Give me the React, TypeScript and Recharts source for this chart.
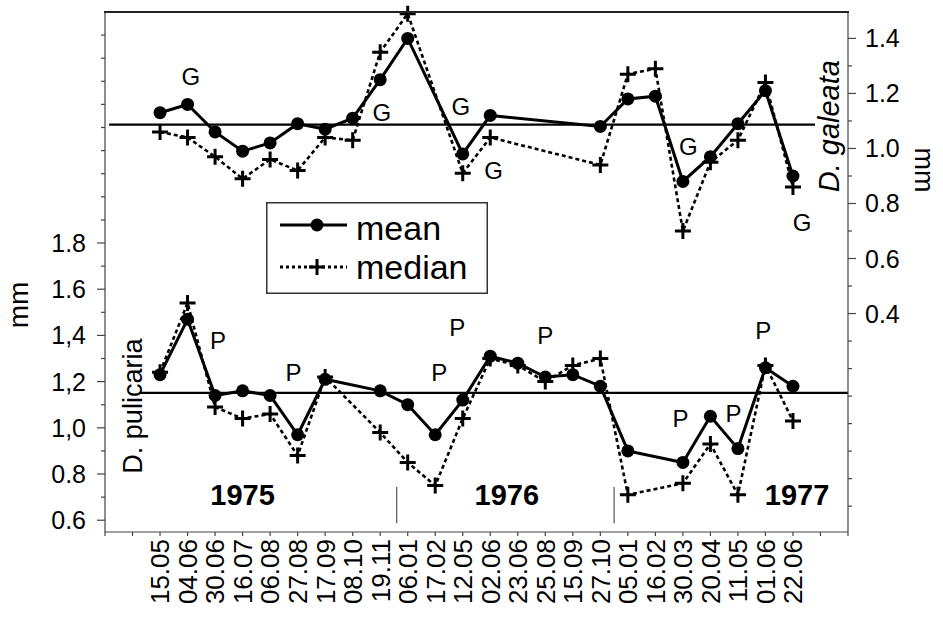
import { ComposedChart, Line, XAxis, YAxis, ReferenceLine, ReferenceDot } from "recharts";

const FONT = "'Liberation Sans', Arial, sans-serif";

// sampling dates (x positions 2..25 on the date axis)
const DATES = [
  "15.05", "04.06", "30.06", "16.07", "06.08", "27.08", "17.09", "08.10", "19.11",
  "06.01", "17.02", "12.05", "02.06", "23.06", "25.08", "15.09", "27.10",
  "05.01", "16.02", "30.03", "20.04", "11.05", "01.06", "22.06",
];

// D. pulicaria (left axis)
const PUL_MEAN = [1.23, 1.47, 1.14, 1.16, 1.14, 0.97, 1.21, null, 1.16, 1.10, 0.97, 1.12, 1.31, 1.28, 1.22, 1.23, 1.18, 0.90, null, 0.85, 1.05, 0.91, 1.26, 1.18];
const PUL_MEDIAN = [1.24, 1.54, 1.09, 1.04, 1.06, 0.88, 1.22, null, 0.98, 0.85, 0.75, 1.04, 1.30, 1.27, 1.20, 1.27, 1.30, 0.71, null, 0.76, 0.93, 0.71, 1.27, 1.03];

// D. galeata (right axis)
const GAL_MEAN = [1.13, 1.16, 1.06, 0.99, 1.02, 1.09, 1.07, 1.11, 1.25, 1.40, null, 0.98, 1.12, null, null, null, 1.08, 1.18, 1.19, 0.88, 0.97, 1.09, 1.21, 0.90];
const GAL_MEDIAN = [1.06, 1.04, 0.97, 0.89, 0.96, 0.92, 1.04, 1.03, 1.35, 1.49, null, 0.91, 1.04, null, null, null, 0.94, 1.27, 1.29, 0.70, 0.95, 1.03, 1.24, 0.86];

// overall levels (horizontal lines)
const PUL_LEVEL = 1.151;
const GAL_LEVEL = 1.087;

// year boundaries on the date axis
const YEAR_BREAKS = [10.6, 18.5];
const YEARS = [
  { x: 5.0, label: "1975" },
  { x: 14.6, label: "1976" },
  { x: 25.15, label: "1977" },
];

// letter marks
const G_MARKS = [
  { x: 3.12, y: 1.263 }, { x: 10.06, y: 1.133 }, { x: 12.93, y: 1.154 },
  { x: 14.12, y: 0.921 }, { x: 21.2, y: 1.006 }, { x: 25.33, y: 0.733 },
];
const P_MARKS = [
  { x: 4.11, y: 1.379 }, { x: 6.85, y: 1.242 }, { x: 12.15, y: 1.241 }, { x: 12.8, y: 1.435 },
  { x: 16.0, y: 1.40 }, { x: 20.91, y: 1.042 }, { x: 22.84, y: 1.063 }, { x: 23.92, y: 1.423 },
];

const LEFT_LABELS: Record<string, string> = {
  "0.6": "0.6", "0.8": "0.8", "1": "1,0", "1.2": "1,2", "1.4": "1,4", "1.6": "1.6", "1.8": "1.8",
};
const RIGHT_LABELS: Record<string, string> = {
  "0.4": "0.4", "0.6": "0.6", "0.8": "0.8", "1": "1.0", "1.2": "1.2", "1.4": "1.4",
};

const steps = (from: number, n: number) => Array.from({ length: n }, (_, k) => +(from + k * 0.1).toFixed(1));
const LEFT_TICKS = steps(0.6, 22);
const RIGHT_TICKS = steps(-0.3, 18);
const X_TICKS = Array.from({ length: 28 }, (_, k) => k);

const data = DATES.map((d, k) => ({
  i: k + 2,
  pulMean: PUL_MEAN[k],
  pulMedian: PUL_MEDIAN[k],
  galMean: GAL_MEAN[k],
  galMedian: GAL_MEDIAN[k],
}));

const AXIS = "#444";

function MeanDot(p: any) {
  if (p.cy == null || p.cx == null) return <g key={p.index} />;
  return <circle key={p.index} cx={p.cx} cy={p.cy} r={6.5} fill="#000" />;
}

function CrossDot(p: any) {
  if (p.cy == null || p.cx == null) return <g key={p.index} />;
  const { cx, cy } = p;
  return <path key={p.index} d={`M${cx - 8},${cy}h16M${cx},${cy - 8}v16`} stroke="#000" strokeWidth={3} fill="none" />;
}

function LeftTick({ x, y, payload }: any) {
  const lab = LEFT_LABELS[String(payload.value)];
  return (
    <g>
      <line x1={x} x2={x - (lab ? 8 : 4)} y1={y} y2={y} stroke={AXIS} strokeWidth={1.2} />
      {lab && (
        <text x={x - 19} y={y} dy="0.36em" textAnchor="end" fontSize={25} fontFamily={FONT} fill="#000">{lab}</text>
      )}
    </g>
  );
}

function RightTick({ x, y, payload }: any) {
  const lab = RIGHT_LABELS[String(payload.value)];
  return (
    <g>
      <line x1={x} x2={x + (lab ? 8 : 4)} y1={y} y2={y} stroke={AXIS} strokeWidth={1.2} />
      {lab && (
        <text x={x + 17} y={y} dy="0.36em" textAnchor="start" fontSize={25} fontFamily={FONT} fill="#000">{lab}</text>
      )}
    </g>
  );
}

function DateTick({ x, y, payload }: any) {
  const lab = DATES[payload.value - 2];
  return (
    <g>
      <line x1={x} x2={x} y1={y} y2={y + 4} stroke={AXIS} strokeWidth={1.2} />
      {lab && (
        <text x={x} y={y + 7} dy="0.36em" textAnchor="end" transform={`rotate(-90 ${x} ${y + 7})`}
          fontSize={26} fontFamily={FONT} fill="#000">{lab}</text>
      )}
    </g>
  );
}

const letter = (txt: string, size: number, bold = false) => (p: any) => (
  <text x={p.cx} y={p.cy} dy="0.36em" textAnchor="middle" fontSize={size} fontWeight={bold ? "bold" : "normal"}
    fontFamily={FONT} fill="#000">{txt}</text>
);

const vertical = (txt: string, size: number, italic = false) => (p: any) => (
  <text x={p.cx} y={p.cy} dy="0.36em" textAnchor="middle" transform={`rotate(-90 ${p.cx} ${p.cy})`}
    fontSize={size} fontStyle={italic ? "italic" : "normal"} fontFamily={FONT} fill="#000">{txt}</text>
);

function LegendBox() {
  return (
    <svg width={222} height={92} style={{ position: "absolute", left: 266, top: 202 }}>
      <rect x={0.75} y={0.75} width={220.5} height={90.5} fill="#fff" stroke="#333" strokeWidth={1.5} />
      <line x1={14} x2={81} y1={23} y2={23} stroke="#000" strokeWidth={3} />
      <circle cx={51} cy={23} r={6.5} fill="#000" />
      <text x={90} y={38} fontSize={34} fontFamily={FONT} fill="#000">mean</text>
      <line x1={14} x2={81} y1={65} y2={65} stroke="#000" strokeWidth={3} strokeDasharray="3 3" />
      <path d="M43,65h16M51,57v16" stroke="#000" strokeWidth={3} />
      <text x={90} y={77} fontSize={34} fontFamily={FONT} fill="#000">median</text>
    </svg>
  );
}

export default function App() {
  return (
    <div style={{ position: "absolute", left: 0, top: 0, width: 943, height: 617, background: "#fff" }}>
      <ComposedChart width={943} height={617} data={data} margin={{ top: 12, right: 0, bottom: 0, left: 0 }}>
        <XAxis xAxisId="bottom" dataKey="i" type="number" domain={[0, 27]} ticks={X_TICKS} interval={0}
          height={85} tickSize={0} tickMargin={0} tick={<DateTick />} stroke={AXIS} strokeWidth={1.2} />
        <YAxis yAxisId="left" type="number" domain={[0.549, 2.8]} ticks={LEFT_TICKS} interval={0}
          width={105} tickSize={0} tickMargin={0} tick={<LeftTick />} stroke={AXIS} strokeWidth={1.2} />
        <YAxis yAxisId="right" orientation="right" type="number" domain={[-0.394, 1.496]} ticks={RIGHT_TICKS} interval={0}
          width={95} tickSize={0} tickMargin={0} tick={<RightTick />} stroke={AXIS} strokeWidth={1.2} />

        <ReferenceLine xAxisId="bottom" yAxisId="right" segment={[{ x: 0.15, y: GAL_LEVEL }, { x: 25.8, y: GAL_LEVEL }]}
          stroke="#000" strokeWidth={2.2} />
        <ReferenceLine xAxisId="bottom" yAxisId="left" segment={[{ x: 1.27, y: PUL_LEVEL }, { x: 27, y: PUL_LEVEL }]}
          stroke="#000" strokeWidth={2.2} />
        {YEAR_BREAKS.map((b) => (
          <ReferenceLine key={b} xAxisId="bottom" yAxisId="left" segment={[{ x: b, y: 0.587 }, { x: b, y: 0.744 }]}
            stroke="#555" strokeWidth={1.2} />
        ))}

        <Line xAxisId="bottom" yAxisId="right" dataKey="galMean" stroke="#000" strokeWidth={3} connectNulls
          dot={MeanDot} activeDot={false} isAnimationActive={false} />
        <Line xAxisId="bottom" yAxisId="right" dataKey="galMedian" stroke="#000" strokeWidth={2.6} strokeDasharray="4 3"
          connectNulls dot={CrossDot} activeDot={false} isAnimationActive={false} />
        <Line xAxisId="bottom" yAxisId="left" dataKey="pulMean" stroke="#000" strokeWidth={3} connectNulls
          dot={MeanDot} activeDot={false} isAnimationActive={false} />
        <Line xAxisId="bottom" yAxisId="left" dataKey="pulMedian" stroke="#000" strokeWidth={2.6} strokeDasharray="4 3"
          connectNulls dot={CrossDot} activeDot={false} isAnimationActive={false} />

        {G_MARKS.map((m, k) => (
          <ReferenceDot key={`g${k}`} xAxisId="bottom" yAxisId="right" x={m.x} y={m.y} r={0} shape={letter("G", 24)} />
        ))}
        {P_MARKS.map((m, k) => (
          <ReferenceDot key={`p${k}`} xAxisId="bottom" yAxisId="left" x={m.x} y={m.y} r={0} shape={letter("P", 24)} />
        ))}
        {YEARS.map((yr) => (
          <ReferenceDot key={yr.label} xAxisId="bottom" yAxisId="left" x={yr.x} y={0.713} r={0} shape={letter(yr.label, 29, true)} />
        ))}
        <ReferenceDot xAxisId="bottom" yAxisId="left" x={0.98} y={1.094} r={0} shape={vertical("D. pulicaria", 27)} />
        <ReferenceDot xAxisId="bottom" yAxisId="right" x={26.29} y={1.081} r={0} shape={vertical("D. galeata", 29, true)} />
      </ComposedChart>
      <LegendBox />
      <svg width={943} height={617} style={{ position: "absolute", left: 0, top: 0, pointerEvents: "none" }}>
        {/* top frame of the plot */}
        <line x1={104} x2={849} y1={12} y2={12} stroke="#222" strokeWidth={2} />
        <text x={18} y={305} dy="0.36em" textAnchor="middle" transform="rotate(-90 18 305)" fontSize={28} fontFamily={FONT}>mm</text>
        <text x={925} y={170} dy="0.36em" textAnchor="middle" transform="rotate(90 925 170)" fontSize={27} fontFamily={FONT}>mm</text>
      </svg>
    </div>
  );
}
